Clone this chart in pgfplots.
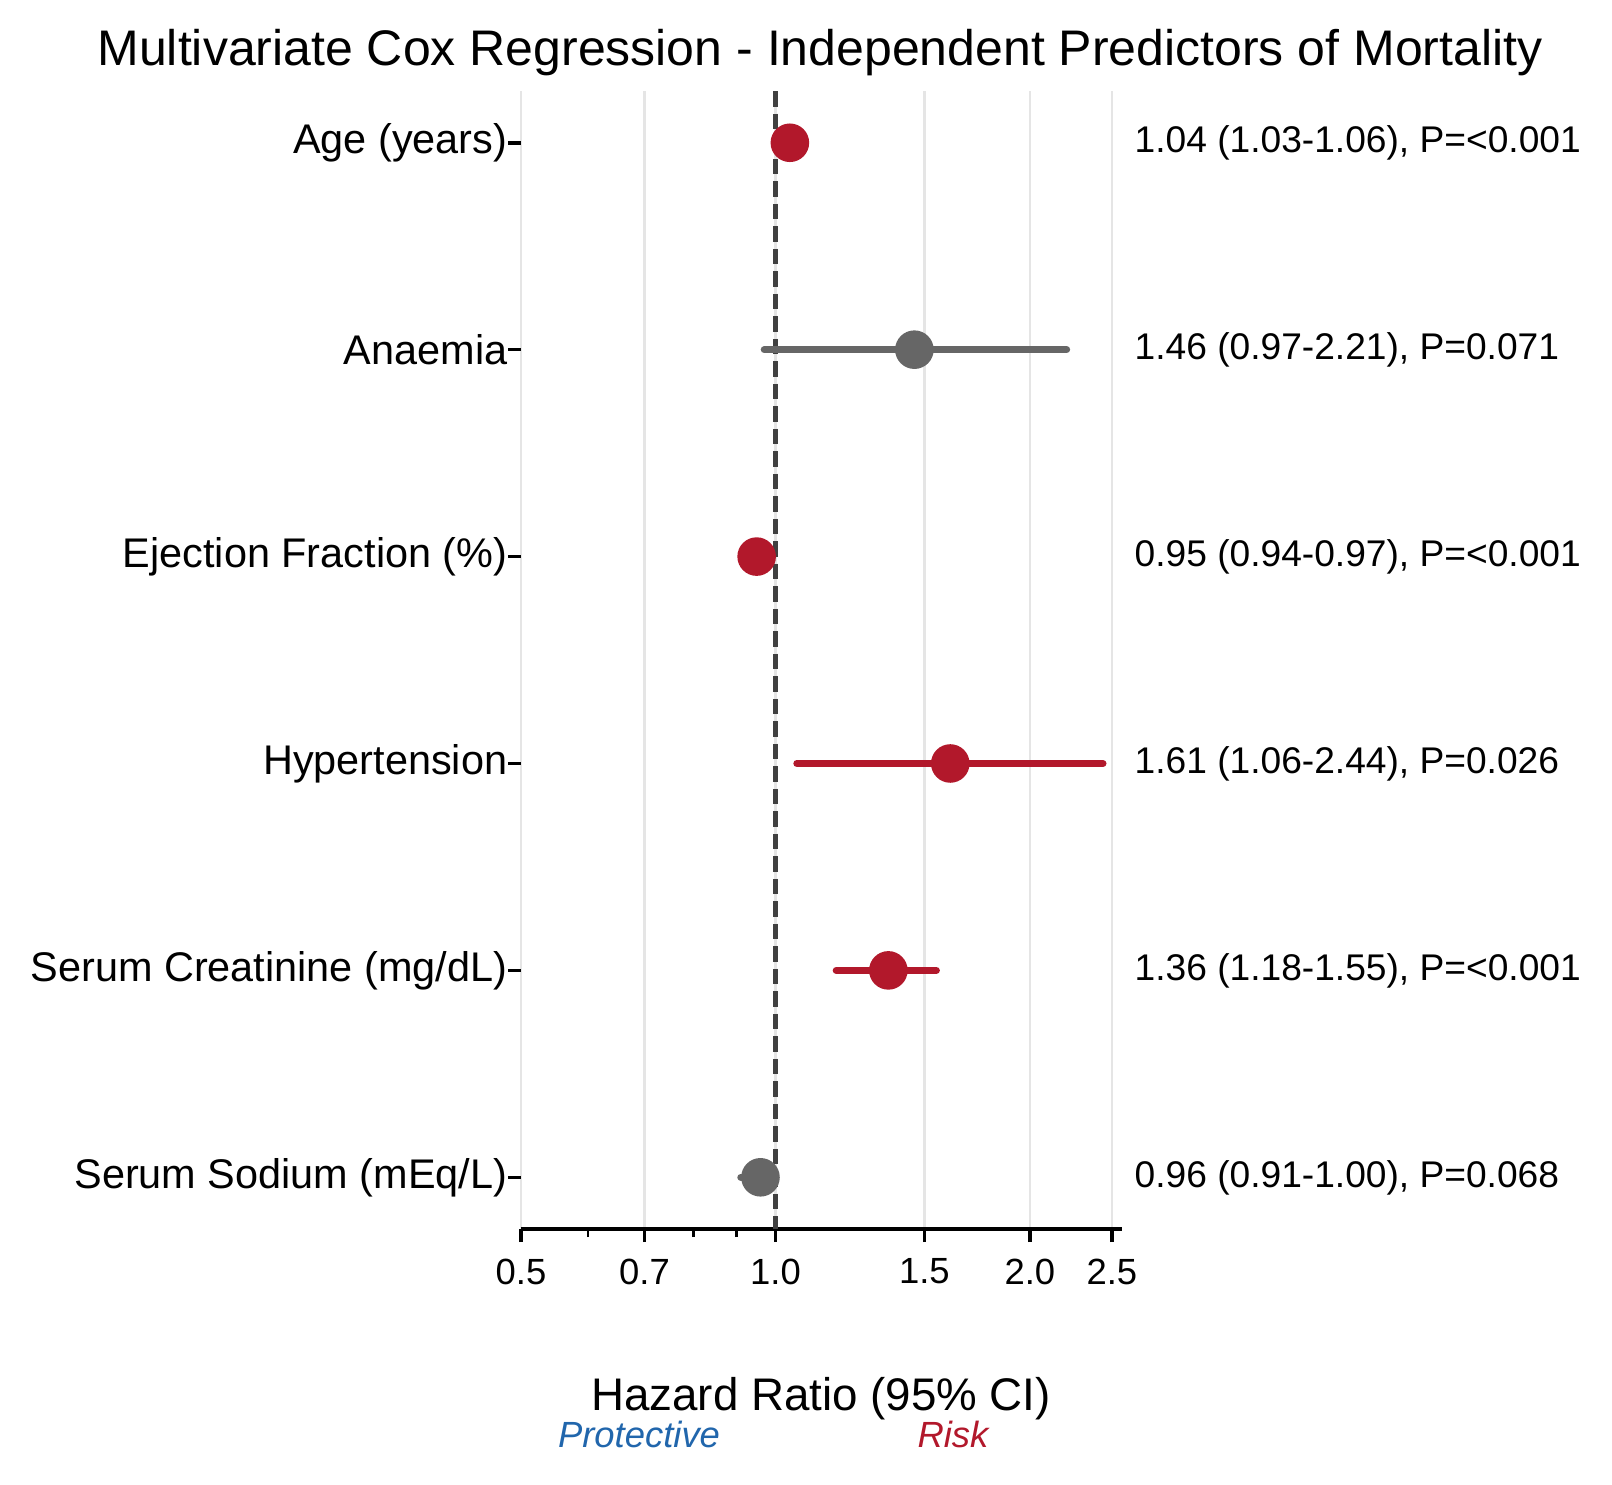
\documentclass[border=0pt]{standalone}
\usepackage{fontspec}
\setmainfont{Liberation Sans}
\usepackage{pgfplots}
\pgfplotsset{compat=1.18}
\definecolor{riskred}{HTML}{B2182B}
\definecolor{nsgrey}{HTML}{666666}
\definecolor{protblue}{HTML}{2166AC}
\definecolor{gridgrey}{HTML}{E5E5E5}
\definecolor{refgrey}{HTML}{404040}

\begin{document}
\begin{tikzpicture}[x=0.28pt,y=0.28pt]
\begin{axis}[
    at={(145.88pt,71.4pt)}, anchor=south west,
    scale only axis, width=168.28pt, height=318.64pt,
    xmode=log, xmin=0.5, xmax=2.57,
    ymin=-0.25, ymax=5.25, y dir=reverse,
    axis x line*=bottom, axis y line*=left,
    y axis line style={draw=none},
    x axis line style={line width=1pt, -},
    tick align=outside,
    major tick length=3.64pt, minor tick length=2.3pt,
    every tick/.style={black, line width=1pt},
    minor tick style={line width=0.8pt},
    xtick={0.5,0.7,1,1.5,2,2.5},
    xticklabels={0.5,0.7,1.0,1.5,2.0,2.5},
    minor xtick={0.6,0.8,0.9},
    ytick={0,1,2,3,4,5},
    yticklabels={Age (years),Anaemia,Ejection Fraction (\%),Hypertension,Serum Creatinine (mg/dL),Serum Sodium (mEq/L)},
    yticklabel style={font=\fontsize{11.6}{13}\selectfont, inner sep=0pt},
    xticklabel style={font=\fontsize{10.2}{12}\selectfont, inner sep=0pt, yshift=-4.5pt},
    xmajorgrids, major grid style={gridgrey, line width=0.7pt},
    clip=false,
]
% reference line at HR = 1
\addplot[refgrey, line width=1.2pt, dash pattern=on 4.4pt off 1.9pt] coordinates {(1,-0.25) (1,5.25)};

% confidence intervals
\addplot[riskred, line width=2pt, line cap=round] coordinates {(1.03,0) (1.06,0)};
\addplot[nsgrey, line width=2pt, line cap=round] coordinates {(0.97,1) (2.21,1)};
\addplot[riskred, line width=2pt, line cap=round] coordinates {(0.94,2) (0.97,2)};
\addplot[riskred, line width=2pt, line cap=round] coordinates {(1.06,3) (2.44,3)};
\addplot[riskred, line width=2pt, line cap=round] coordinates {(1.18,4) (1.55,4)};
\addplot[nsgrey, line width=2pt, line cap=round] coordinates {(0.91,5) (1.00,5)};

% point estimates
\addplot[only marks, mark=*, mark size=5.2pt, mark options={draw=riskred, fill=riskred}]
    coordinates {(1.04,0) (0.95,2) (1.61,3) (1.36,4)};
\addplot[only marks, mark=*, mark size=5.2pt, mark options={draw=nsgrey, fill=nsgrey}]
    coordinates {(1.46,1) (0.96,5)};
\end{axis}

\node[anchor=base, font=\fontsize{14}{16}\selectfont] at (820,1418)
    {Multivariate Cox Regression - Independent Predictors of Mortality};
\node[anchor=base, font=\fontsize{12.8}{15}\selectfont] at (821,74) {Hazard Ratio (95\% CI)};
\node[anchor=base, font=\fontsize{10.2}{12}\selectfont\itshape, text=protblue] at (639,37) {Protective};
\node[anchor=base, font=\fontsize{10.2}{12}\selectfont\itshape, text=riskred] at (953,37) {Risk};

\begin{scope}[every node/.style={anchor=west, inner sep=0pt, font=\fontsize{10.4}{12}\selectfont}]
\node at (1134,1341) {1.04 (1.03-1.06), P=<0.001};
\node at (1134,1134) {1.46 (0.97-2.21), P=0.071};
\node at (1134,927) {0.95 (0.94-0.97), P=<0.001};
\node at (1134,720) {1.61 (1.06-2.44), P=0.026};
\node at (1134,513) {1.36 (1.18-1.55), P=<0.001};
\node at (1134,306) {0.96 (0.91-1.00), P=0.068};
\end{scope}

\pgfresetboundingbox
\path[use as bounding box] (0,0) rectangle (1612,1484);
\end{tikzpicture}
\end{document}
